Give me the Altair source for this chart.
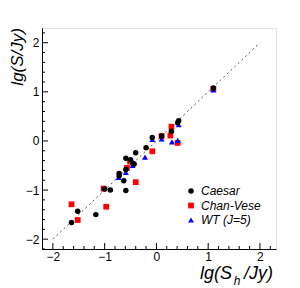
import altair as alt
import pandas as pd

# --- data ---
caesar_x = [-1.64, -1.52, -1.17, -1.00, -0.89, -0.72, -0.72, -0.63, -0.59, -0.59, -0.59,
            -0.50, -0.46, -0.43, -0.40, -0.20, -0.08, 0.10, 0.29, 0.41, 0.43, 1.10]
caesar_y = [-1.66, -1.43, -1.50, -0.98, -1.00, -0.66, -0.71, -0.81, -1.01, -0.58, -0.35,
            -0.38, -0.45, -0.47, -0.24, -0.14, 0.07, 0.10, 0.20, 0.37, 0.41, 1.08]

cv_x = [-1.64, -1.52, -1.02, -0.97, -0.57, -0.51, -0.40, -0.08, 0.10, 0.27, 0.29, 0.41, 1.10]
cv_y = [-1.29, -1.61, -0.97, -1.34, -0.55, -0.42, -0.84, -0.21, 0.10, 0.11, 0.29, -0.04, 1.06]

wt_x = [-0.73, -0.59, -0.46, -0.22, -0.08, 0.10, 0.30, 0.41, 0.43, 1.10]
wt_y = [-0.74, -0.64, -0.50, -0.33, 0.03, 0.04, -0.02, 0.01, 0.33, 1.04]

series = ["Caesar", "Chan-Vese", "WT (J=5)"]
colors = ["#000000", "#ff0000", "#0000ff"]
shapes = ["circle", "square", "triangle-up"]
sizes = [30, 36, 34]

major_ticks = [-2, -1, 0, 1, 2]
minor_ticks = [-2.2, -1.8, -1.6, -1.4, -1.2, -0.8, -0.6, -0.4, -0.2,
               0.2, 0.4, 0.6, 0.8, 1.2, 1.4, 1.6, 1.8, 2.2]
diag = [-2, 2]

x_title_parts = ["lg(S", "h", "/Jy)"]
y_title = "lg(S/Jy)"

# --- build tables ---
rows = []
for name, xs, ys in [("Chan-Vese", cv_x, cv_y), ("WT (J=5)", wt_x, wt_y), ("Caesar", caesar_x, caesar_y)]:
    for a, b in zip(xs, ys):
        rows.append({"x": a, "y": b, "series": name})
df = pd.DataFrame(rows)

W, H = 234, 221
FONT = "Liberation Sans"
xscale = alt.Scale(domain=[-2.21, 2.31], nice=False, zero=False)
yscale = alt.Scale(domain=[-2.2, 2.3], nice=False, zero=False)

xaxis = alt.Axis(values=major_ticks, title=None, ticks=False, grid=False, format="d",
                 labelFontSize=12, labelFont=FONT, labelColor="black", labelPadding=2,
                 domainColor="black")
yaxis = alt.Axis(values=major_ticks, title=None, ticks=False, grid=False, format="d",
                 labelFontSize=12, labelFont=FONT, labelColor="black", labelPadding=3,
                 domainColor="black")

major_df = pd.DataFrame({"t": major_ticks})
minor_df = pd.DataFrame({"t": minor_ticks})

def xticks(d, length):
    return alt.Chart(d).mark_rule(color="black", strokeWidth=1).encode(
        x=alt.X("t:Q", scale=xscale, axis=xaxis),
        y=alt.value(H), y2=alt.value(H - length))

def yticks(d, length):
    return alt.Chart(d).mark_rule(color="black", strokeWidth=1).encode(
        y=alt.Y("t:Q", scale=yscale, axis=yaxis),
        x=alt.value(0), x2=alt.value(length))

diag_df = pd.DataFrame({"x": diag, "y": diag})
line = alt.Chart(diag_df).mark_line(color="#555555", strokeWidth=1, strokeDash=[2, 3]).encode(
    x=alt.X("x:Q", scale=xscale, axis=xaxis),
    y=alt.Y("y:Q", scale=yscale, axis=yaxis))

leg = alt.Legend(title=None, orient="none", legendX=143, legendY=157,
                 labelFont=FONT, labelFontStyle="italic", labelFontSize=12,
                 labelColor="black", symbolSize=22, rowPadding=2.5,
                 labelOffset=4, padding=0)

pts = alt.Chart(df).mark_point(filled=True, opacity=1).encode(
    x=alt.X("x:Q", scale=xscale, axis=xaxis),
    y=alt.Y("y:Q", scale=yscale, axis=yaxis),
    color=alt.Color("series:N", scale=alt.Scale(domain=series, range=colors), legend=leg),
    shape=alt.Shape("series:N", scale=alt.Scale(domain=series, range=shapes), legend=leg),
    size=alt.Size("series:N", scale=alt.Scale(domain=series, range=sizes), legend=None),
)

t1 = alt.Chart(pd.DataFrame({"s": [x_title_parts[0]]})).mark_text(
    font=FONT, fontStyle="italic", fontSize=18, align="right", baseline="alphabetic").encode(
    text="s:N", x=alt.value(190), y=alt.value(251))
t2 = alt.Chart(pd.DataFrame({"s": [x_title_parts[1]]})).mark_text(
    font=FONT, fontStyle="italic", fontSize=12, align="center", baseline="alphabetic").encode(
    text="s:N", x=alt.value(195), y=alt.value(257))
t3 = alt.Chart(pd.DataFrame({"s": [x_title_parts[2]]})).mark_text(
    font=FONT, fontStyle="italic", fontSize=18, align="left", baseline="alphabetic").encode(
    text="s:N", x=alt.value(202), y=alt.value(251))
ty = alt.Chart(pd.DataFrame({"s": [y_title]})).mark_text(
    font=FONT, fontStyle="italic", fontSize=17, align="right", baseline="alphabetic", angle=270).encode(
    text="s:N", x=alt.value(-19), y=alt.value(0))

chart = alt.layer(
    xticks(major_df, 6), xticks(minor_df, 3), yticks(major_df, 6), yticks(minor_df, 3),
    line, pts, t1, t2, t3, ty
).resolve_scale(x="shared", y="shared").properties(
    width=W, height=H,
    autosize=alt.AutoSizeParams(type="none"),
    padding={"left": 34, "top": 20, "right": 16, "bottom": 39},
).configure_view(stroke="#777777", strokeWidth=1).configure(background="white")

chart.save("out.html", embed_options={"renderer": "svg", "actions": False})
